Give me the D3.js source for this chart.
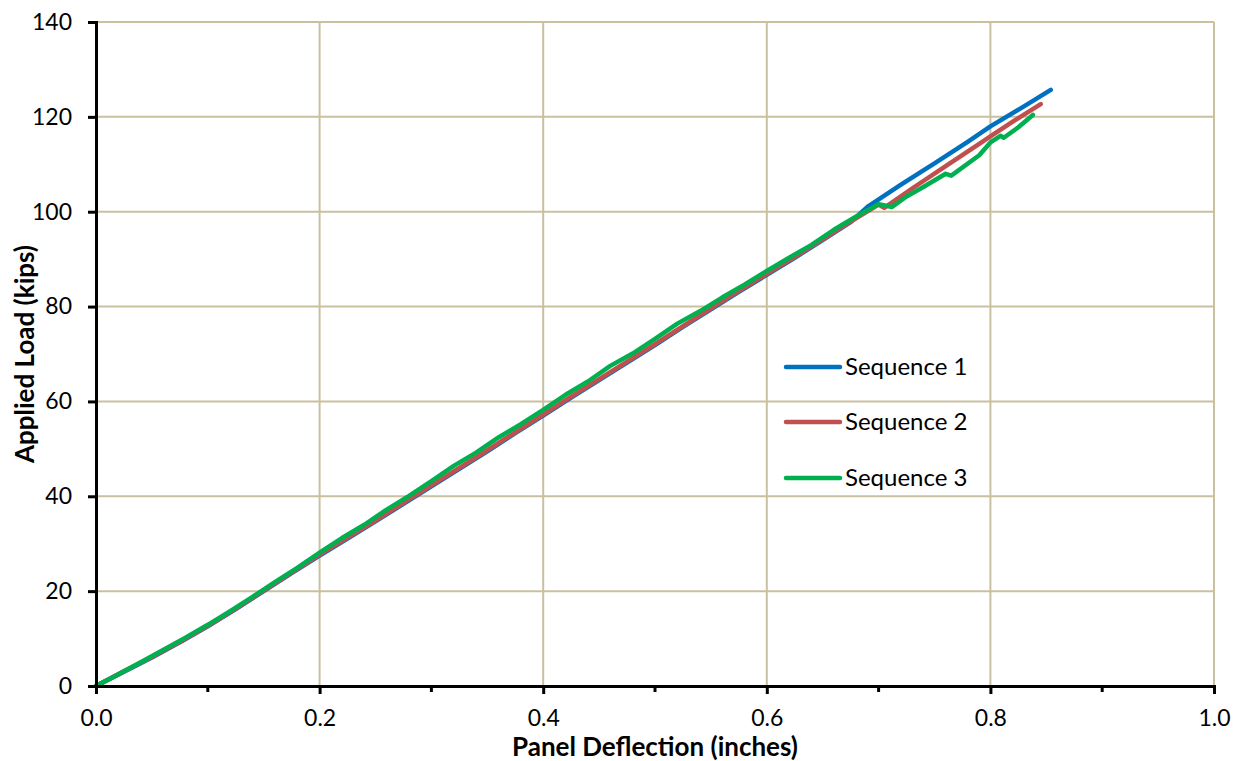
<!DOCTYPE html>
<html>
<head>
<meta charset="utf-8">
<script src="https://cdn.jsdelivr.net/npm/d3@7"></script>
<style>
  body { margin: 0; background: #fff; }
  svg { display: block; font-family: Lato, "Open Sans", sans-serif; }
</style>
</head>
<body>
<svg id="chart" width="1234" height="761"></svg>
<script>
// ---- Data ----
const seriesNames = ["Sequence 1", "Sequence 2", "Sequence 3"];
const seriesColors = ["#0070C0", "#C0504D", "#00B050"];

// Sequence 1 (deflection in, load kips)
const seq1X = [0, 0.025, 0.05, 0.075, 0.1, 0.125, 0.15, 0.175, 0.2, 0.225, 0.25, 0.275, 0.3, 0.325, 0.35, 0.375, 0.4, 0.425, 0.45, 0.475, 0.5, 0.525, 0.55, 0.575, 0.6, 0.625, 0.65, 0.675, 0.691, 0.72, 0.75, 0.78, 0.8, 0.83, 0.854];
const seq1Y = [0, 3.0, 6.0, 9.2, 12.6, 16.2, 20.0, 23.8, 27.5, 31.1, 34.7, 38.4, 42.1, 45.8, 49.5, 53.3, 57.0, 60.8, 64.5, 68.2, 71.9, 75.7, 79.4, 83.1, 86.7, 90.3, 94.0, 97.8, 101.2, 105.7, 110.2, 114.8, 118.0, 122.2, 125.7];

// Sequence 2
const seq2X = [0, 0.025, 0.05, 0.075, 0.1, 0.125, 0.15, 0.175, 0.2, 0.225, 0.25, 0.275, 0.3, 0.325, 0.35, 0.375, 0.4, 0.425, 0.45, 0.475, 0.5, 0.525, 0.55, 0.575, 0.6, 0.625, 0.65, 0.675, 0.7, 0.705, 0.73, 0.76, 0.79, 0.8, 0.82, 0.845];
const seq2Y = [0, 3.1, 6.1, 9.3, 12.7, 16.3, 20.1, 23.9, 27.7, 31.3, 34.9, 38.6, 42.3, 46.0, 49.7, 53.5, 57.2, 61.0, 64.7, 68.4, 72.1, 75.9, 79.6, 83.3, 86.9, 90.5, 94.2, 97.9, 101.5, 100.8, 104.9, 109.6, 114.3, 115.9, 119.0, 122.7];

// Sequence 3
const seq3X = [0, 0.02, 0.04, 0.06, 0.08, 0.1, 0.12, 0.14, 0.16, 0.18, 0.2, 0.22, 0.24, 0.26, 0.28, 0.3, 0.32, 0.34, 0.36, 0.38, 0.4, 0.42, 0.44, 0.46, 0.48, 0.5, 0.52, 0.54, 0.56, 0.58, 0.6, 0.62, 0.64, 0.66, 0.68, 0.7, 0.712, 0.725, 0.74, 0.76, 0.765, 0.79, 0.8, 0.809, 0.812, 0.825, 0.838];
const seq3Y = [0, 2.5, 5.0, 7.6, 10.2, 12.9, 15.8, 18.8, 21.9, 24.9, 28.1, 31.2, 34.0, 37.2, 40.1, 43.2, 46.4, 49.2, 52.4, 55.2, 58.2, 61.4, 64.2, 67.5, 70.1, 73.2, 76.4, 79.0, 81.9, 84.6, 87.5, 90.3, 93.0, 96.2, 99.0, 101.6, 101.0, 103.2, 105.2, 108.0, 107.6, 111.9, 114.6, 116.0, 115.6, 117.8, 120.4];

const xTickValues = [0, 0.2, 0.4, 0.6, 0.8, 1.0];
const xMinorTicks = [0.1, 0.3, 0.5, 0.7, 0.9];
const yTickValues = [0, 20, 40, 60, 80, 100, 120, 140];
const xTitle = "Panel Deflection (inches)";
const yTitle = "Applied Load (kips)";

// ---- Layout ----
const svg = d3.select("#chart");
const mLeft = 96, mRight = 1214, mTop = 22, mBottom = 686;

const x = d3.scaleLinear().domain([0, 1]).range([mLeft, mRight]);
const y = d3.scaleLinear().domain([0, 140]).range([mBottom, mTop]);

const gridColor = "#C9C0A0";

// Gridlines
svg.append("g").selectAll("line")
  .data(xTickValues.filter(d => d > 0))
  .join("line")
  .attr("x1", d => x(d)).attr("x2", d => x(d))
  .attr("y1", mTop).attr("y2", mBottom)
  .attr("stroke", gridColor).attr("stroke-width", 2);

svg.append("g").selectAll("line")
  .data(yTickValues.filter(d => d > 0))
  .join("line")
  .attr("x1", mLeft).attr("x2", mRight)
  .attr("y1", d => y(d)).attr("y2", d => y(d))
  .attr("stroke", gridColor).attr("stroke-width", 2);

// Series
const seriesData = [
  d3.zip(seq1X, seq1Y),
  d3.zip(seq2X, seq2Y),
  d3.zip(seq3X, seq3Y)
];
const line = d3.line().x(d => x(d[0])).y(d => y(d[1])).curve(d3.curveLinear);

seriesData.forEach((pts, i) => {
  svg.append("path")
    .datum(pts)
    .attr("d", line)
    .attr("fill", "none")
    .attr("stroke", seriesColors[i])
    .attr("stroke-width", 4.5)
    .attr("stroke-linejoin", "round")
    .attr("stroke-linecap", "round");
});

// Axes
const yAxis = d3.axisLeft(y).tickValues(yTickValues).tickSize(8).tickPadding(16).tickFormat(d3.format("d"));
const gy = svg.append("g").attr("transform", `translate(${mLeft},0)`).call(yAxis);
gy.select(".domain").attr("stroke", "#000").attr("stroke-width", 3);
gy.selectAll(".tick line").attr("stroke", "#000").attr("stroke-width", 3);
gy.selectAll(".tick text").attr("font-size", 23).attr("fill", "#000")
  .attr("font-family", "Lato, 'Open Sans', sans-serif");

const xAxis = d3.axisBottom(x).tickValues(xTickValues).tickSize(8).tickPadding(16).tickFormat(d3.format(".1f"));
const gx = svg.append("g").attr("transform", `translate(0,${mBottom})`).call(xAxis);
gx.select(".domain").attr("stroke", "#000").attr("stroke-width", 3);
gx.selectAll(".tick line").attr("stroke", "#000").attr("stroke-width", 3);
gx.selectAll(".tick text").attr("font-size", 23).attr("fill", "#000")
  .attr("font-family", "Lato, 'Open Sans', sans-serif");

// Minor x ticks
svg.append("g").selectAll("line")
  .data(xMinorTicks)
  .join("line")
  .attr("x1", d => x(d)).attr("x2", d => x(d))
  .attr("y1", mBottom).attr("y2", mBottom + 6)
  .attr("stroke", "#000").attr("stroke-width", 3);

// Axis titles
svg.append("text")
  .attr("x", (mLeft + mRight) / 2)
  .attr("y", 756)
  .attr("text-anchor", "middle")
  .attr("font-size", 26)
  .attr("font-weight", "bold")
  .text(xTitle);

svg.append("text")
  .attr("transform", `translate(34,${(mTop + mBottom) / 2}) rotate(-90)`)
  .attr("text-anchor", "middle")
  .attr("font-size", 26)
  .attr("font-weight", "bold")
  .text(yTitle);

// Legend
const legendY = [367, 422, 478];
seriesNames.forEach((name, i) => {
  svg.append("line")
    .attr("x1", 786).attr("x2", 840)
    .attr("y1", legendY[i]).attr("y2", legendY[i])
    .attr("stroke", seriesColors[i]).attr("stroke-width", 4.5)
    .attr("stroke-linecap", "round");
  svg.append("text")
    .attr("x", 845).attr("y", legendY[i])
    .attr("dy", "0.35em")
    .attr("font-size", 24)
    .text(name);
});
</script>
</body>
</html>
